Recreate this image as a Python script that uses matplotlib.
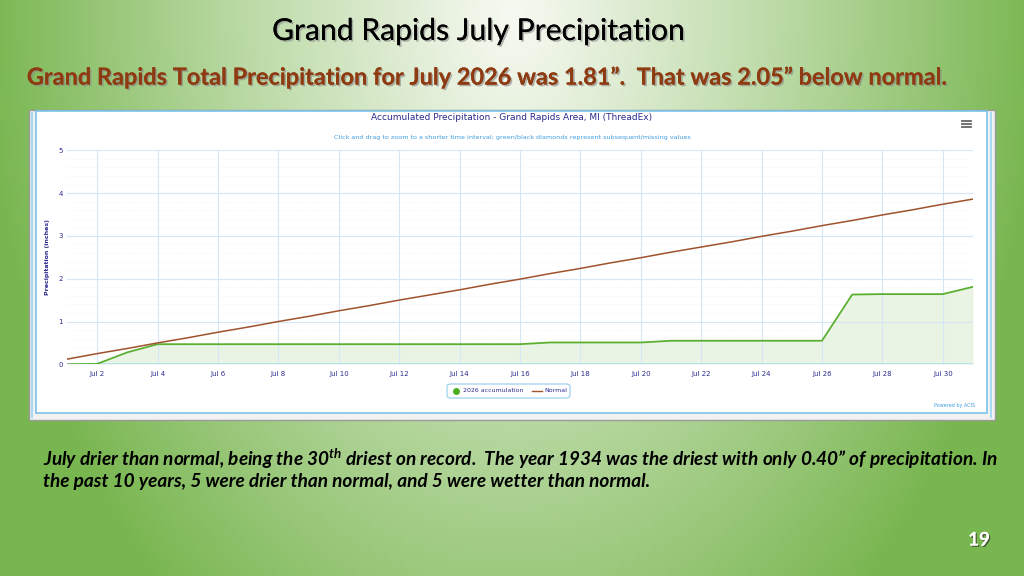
import matplotlib

matplotlib.use("Agg")
import matplotlib.pyplot as plt
import matplotlib.patheffects as pe
from matplotlib.patches import Rectangle, FancyBboxPatch
from matplotlib.lines import Line2D
import numpy as np

# ---- data ----
days = list(range(1, 32))
accum_2026 = [0.00, 0.01, 0.28, 0.47, 0.47, 0.47, 0.47, 0.47, 0.47, 0.47,
              0.47, 0.47, 0.47, 0.47, 0.47, 0.47, 0.51, 0.51, 0.51, 0.51,
              0.55, 0.55, 0.55, 0.55, 0.55, 0.55, 1.63, 1.64, 1.64, 1.64,
              1.81]
normal = [0.12, 0.25, 0.37, 0.50, 0.62, 0.75, 0.87, 1.00, 1.12, 1.25,
          1.37, 1.50, 1.62, 1.74, 1.87, 1.99, 2.12, 2.24, 2.37, 2.49,
          2.62, 2.74, 2.86, 2.99, 3.11, 3.24, 3.36, 3.49, 3.61, 3.74,
          3.86]
tick_days = list(range(2, 31, 2))
tick_labels = [f"Jul {d}" for d in tick_days]
y_ticks = [0, 1, 2, 3, 4, 5]

W, H = 1024, 576
NAVY = "#2b2b8f"
FONT = ["Lato", "DejaVu Sans"]
plt.rcParams["mathtext.fontset"] = "custom"
plt.rcParams["mathtext.it"] = "Lato:italic:bold"
plt.rcParams["mathtext.rm"] = "Lato:italic:bold"
fig = plt.figure(figsize=(W / 100, H / 100), dpi=100)


def fx(px):
    return px / W


def fy(py):
    return 1 - py / H


def fit_width(txt, width_px):
    """Scale a text's font size so it spans about width_px pixels."""
    r = fig.canvas.get_renderer()
    w = txt.get_window_extent(renderer=r).width
    txt.set_fontsize(txt.get_fontsize() * width_px / w)


# ---- slide background: light centre at top, green towards edges ----
bg = fig.add_axes([0, 0, 1, 1], zorder=-10)
xx, yy = np.meshgrid(np.linspace(0, 1, 256), np.linspace(0, 1, 144))
t = np.clip(np.sqrt(((xx - 0.5) / 0.52) ** 2 + ((yy - 0.02) / 1.35) ** 2), 0, 1)
c0 = np.array([0xf6, 0xf9, 0xf1]) / 255
c1 = np.array([0x78, 0xb6, 0x4f]) / 255
img = c0 + (c1 - c0) * (t[..., None] ** 1.1)
bg.imshow(img, extent=[0, 1, 0, 1], aspect="auto", origin="upper")
bg.set_axis_off()

# ---- chart frame ----
fig.patches.append(Rectangle((fx(29), fy(420)), fx(995 - 29), (420 - 110) / H,
                             transform=fig.transFigure, facecolor="#f2f2f2",
                             edgecolor="#9a9a9a", lw=1.0, zorder=-5))
fig.patches.append(Rectangle((fx(36), fy(413)), fx(987 - 36), (413 - 111) / H,
                             transform=fig.transFigure, facecolor="white",
                             edgecolor="#7cc3ea", lw=1.2, zorder=-4))
fig.patches.append(Rectangle((fx(31), fy(418)), fx(2), (418 - 112) / H,
                             transform=fig.transFigure, facecolor="#a8d8f2",
                             edgecolor="none", zorder=-4))
fig.patches.append(Rectangle((fx(990), fy(418)), fx(2), (418 - 112) / H,
                             transform=fig.transFigure, facecolor="#a8d8f2",
                             edgecolor="none", zorder=-4))

# ---- plot ----
ax = fig.add_axes([fx(67), fy(364.3), fx(973 - 67), (364.3 - 150.3) / H])
ax.set_facecolor("none")
ax.fill_between(days, accum_2026, 0, color="#5cb031", alpha=0.13, lw=0)
ax.plot(days, accum_2026, color="#5cb031", lw=1.3, zorder=3)
ax.plot(days, normal, color="#a0522d", lw=1.1, zorder=3)

ax.set_xlim(1, 31)
ax.set_ylim(0, 5)
ax.set_xticks(tick_days)
ax.set_xticklabels(tick_labels)
ax.set_yticks(y_ticks)
ax.set_yticks(np.arange(0, 5.01, 0.2), minor=True)
ax.tick_params(axis="both", length=0, labelsize=5, colors=NAVY, pad=5)
ax.tick_params(axis="y", which="minor", length=0)
ax.tick_params(axis="y", pad=3)
ax.grid(True, axis="both", which="major", color="#d6e6f5", lw=0.8)
ax.grid(True, axis="y", which="minor", color="#eeeeee", lw=0.5, ls=":")
for s in ax.spines.values():
    s.set_visible(False)
ax.axhline(0, color="#aee0f5", lw=1.2, zorder=2)
ax.set_ylabel("Precipitation (inches)", fontsize=4.5, color=NAVY,
              fontweight="bold", labelpad=6)

# chart title / subtitle / credits
fig.text(0.5, fy(118), "Accumulated Precipitation - Grand Rapids Area, MI (ThreadEx)",
         ha="center", va="center", fontsize=6.5, color=NAVY)
fig.text(0.5, fy(138), "Click and drag to zoom to a shorter time interval; "
         "green/black diamonds represent subsequent/missing values",
         ha="center", va="center", fontsize=4.6, color="#3f9de0")
fig.text(fx(975), fy(406), "Powered by ACIS", ha="right", va="center",
         fontsize=3.5, color="#3f9de0")
for dy in (-3, 0, 3):
    fig.lines.append(Line2D([fx(962), fx(971)], [fy(124 + dy)] * 2,
                            transform=fig.transFigure, color="#666666", lw=1.3))

# legend
fig.patches.append(FancyBboxPatch((fx(447), fy(398)), fx(123), 14 / H,
                                  boxstyle="round,pad=0,rounding_size=0.004",
                                  transform=fig.transFigure, facecolor="white",
                                  edgecolor="#9fd0ee", lw=0.9))
fig.lines.append(Line2D([fx(456)], [fy(391)], transform=fig.transFigure,
                        marker="o", ms=4, color="#4caf1f", lw=0))
fig.text(fx(463), fy(391), "2026 accumulation", ha="left", va="center",
         fontsize=4.5, color=NAVY)
fig.lines.append(Line2D([fx(532), fx(542)], [fy(391)] * 2,
                        transform=fig.transFigure, color="#a0522d", lw=1.0))
fig.text(fx(544), fy(391), "Normal", ha="left", va="center",
         fontsize=4.5, color=NAVY)

# ---- slide texts ----
shadow = [pe.withSimplePatchShadow(offset=(1.2, -1.2), shadow_rgbFace="#888888",
                                   alpha=0.6), pe.Normal()]
t1 = fig.text(fx(479), fy(31), "Grand Rapids July Precipitation", ha="center",
              va="center", fontsize=20, color="black", family=FONT,
              path_effects=shadow)
fit_width(t1, 414)
t2 = fig.text(fx(486), fy(77),
              "Grand Rapids Total Precipitation for July 2026 was 1.81\u201d.  "
              "That was 2.05\u201d below normal.",
              ha="center", va="center", fontsize=14, fontweight="bold",
              color="#8f3b12", family=FONT, path_effects=shadow)
fit_width(t2, 926)
t3 = fig.text(fx(43), fy(459),
              "July drier than normal, being the 30$^{th}$ driest on record.  "
              "The year 1934 was the driest with only 0.40\u201d of precipitation. In",
              ha="left", va="center", fontsize=11, fontweight="bold",
              style="italic", color="black", family=FONT)
fit_width(t3, 957)
fig.text(fx(43), fy(481),
         "the past 10 years, 5 were drier than normal, and 5 were wetter than normal.",
         ha="left", va="center", fontsize=t3.get_fontsize(), fontweight="bold",
         style="italic", color="black", family=FONT)
fig.text(fx(979), fy(540), "19", ha="center", va="center", fontsize=13.5,
         fontweight="bold", color="white", family=FONT,
         path_effects=[pe.withSimplePatchShadow(offset=(1, -1),
                                                shadow_rgbFace="#333333",
                                                alpha=0.7), pe.Normal()])

fig.savefig("out.png", dpi=100)
